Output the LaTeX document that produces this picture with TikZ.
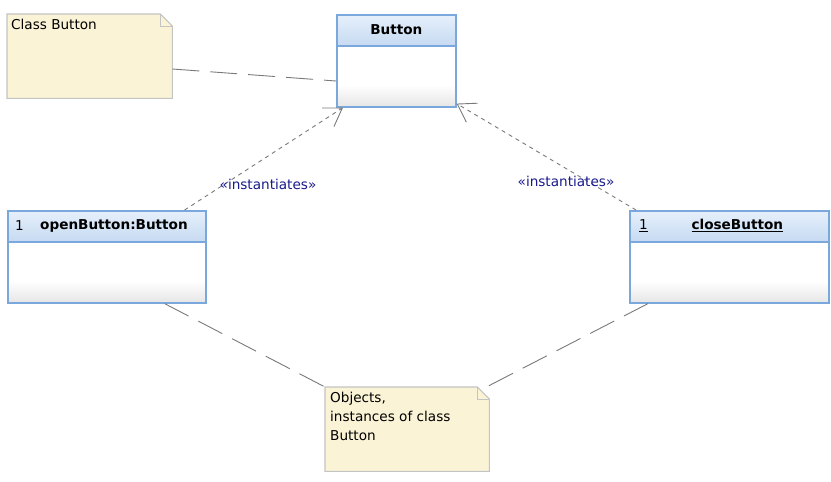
\documentclass[tikz,border=0pt]{standalone}
\usepackage{fontspec}
\setmainfont{DejaVu Sans}
\usetikzlibrary{arrows.meta,calc}
\definecolor{clsborder}{HTML}{7AA7DC}
\definecolor{hdtop}{HTML}{E6F0FB}
\definecolor{hdbot}{HTML}{C6DAF2}
\definecolor{bodybot}{HTML}{E6E6E6}
\definecolor{notefill}{HTML}{FAF3D6}
\definecolor{noteborder}{HTML}{C4C4C4}
\definecolor{lbl}{HTML}{1A1A8C}
\definecolor{conn}{HTML}{7A7A7A}
\begin{document}
\begin{tikzpicture}[x=1pt,y=-1pt,
  every node/.style={font=\fontsize{13.6pt}{19pt}\selectfont},
  classbox/.style={rectangle, draw=clsborder, line width=1.6pt, minimum width=#1, minimum height=92pt, inner sep=0pt, anchor=north west,
    path picture={
      \fill[white] (path picture bounding box.north west) rectangle (path picture bounding box.south east);
      \shade[top color=white,bottom color=bodybot] ([yshift=22pt]path picture bounding box.south west) rectangle (path picture bounding box.south east);
      \shade[top color=hdtop,bottom color=hdbot] (path picture bounding box.north west) rectangle ([yshift=-31pt]path picture bounding box.north east);
      \draw[clsborder,line width=1.6pt] ([yshift=-31pt]path picture bounding box.north west) -- ([yshift=-31pt]path picture bounding box.north east);
    }},
  notebox/.style={rectangle, minimum width=#1, minimum height=84pt, inner sep=0pt, anchor=north west},
  noteshape/.style={fill=notefill, draw=noteborder, line width=1.1pt},
  notetext/.style={anchor=north west, align=left, inner sep=0pt},
  title/.style={font=\fontsize{13.6pt}{16pt}\selectfont\bfseries},
  notelink/.style={draw=conn, line width=0.9pt, dash pattern=on 27pt off 11pt},
  inst/.style={draw=conn, line width=0.9pt, dash pattern=on 4pt off 4pt, -{Straight Barb[length=17pt,width=22pt,line width=0.9pt]}},
  stereo/.style={text=lbl}
]
\useasboundingbox (0,0) rectangle (831,482);
\fill[white] (0,0) rectangle (831,482);

% notes
\node[notebox=165pt] (n1) at (7,14) {};
\draw[noteshape] (n1.north west) -- ([xshift=-12pt]n1.north east) -- ([yshift=-12pt]n1.north east) -- (n1.south east) -- (n1.south west) -- cycle;
\draw[noteborder,line width=1pt] ([xshift=-12pt]n1.north east) -- ([xshift=-12pt,yshift=-12pt]n1.north east) -- ([yshift=-12pt]n1.north east);
\node[notetext] (n1t) at (11,19) {Class Button};

\node[notebox=164pt] (n2) at (325,387) {};
\draw[noteshape] (n2.north west) -- ([xshift=-12pt]n2.north east) -- ([yshift=-12pt]n2.north east) -- (n2.south east) -- (n2.south west) -- cycle;
\draw[noteborder,line width=1pt] ([xshift=-12pt]n2.north east) -- ([xshift=-12pt,yshift=-12pt]n2.north east) -- ([yshift=-12pt]n2.north east);
\node[notetext] (n2t) at (330,392) {Objects,\\instances of class\\Button};

% classes
\node[classbox=119pt] (btn) at (336,14) {};
\node[title] (btnt) at ([yshift=-15.5pt]btn.north) {Button};

\node[classbox=198pt] (ob) at (7,210) {};
\node[anchor=west,inner sep=0pt] (obn) at ([xshift=8pt,yshift=-15.5pt]ob.north west) {1};
\node[title,anchor=west,inner sep=0pt] (obt) at ([xshift=33pt,yshift=-15.5pt]ob.north west) {openButton:Button};

\node[classbox=199pt] (cb) at (629,210) {};
\node[anchor=west,inner sep=0pt] (cbn) at ([xshift=10pt,yshift=-15.5pt]cb.north west) {\underline{1}};
\node[title,inner sep=0pt] (cbt) at ([xshift=8pt,yshift=-15.5pt]cb.north) {\underline{closeButton}};

% connectors
\draw[notelink] (n1.east |- 0,69) -- (btn.west |- 0,81);
\draw[notelink] ([xshift=-42pt]ob.south east) -- (n2.north west);
\draw[notelink] ([xshift=19pt]cb.south west) -- ([xshift=-3pt]n2.north east);

\draw[inst] ([xshift=-22pt]ob.north east) -- ([xshift=7pt]btn.south west);
\draw[inst] ([xshift=7pt]cb.north west) -- ([yshift=4pt]btn.south east);

\node[stereo] (l1) at (268,184) {«instantiates»};
\node[stereo] (l2) at (566,181) {«instantiates»};
\end{tikzpicture}
\end{document}
